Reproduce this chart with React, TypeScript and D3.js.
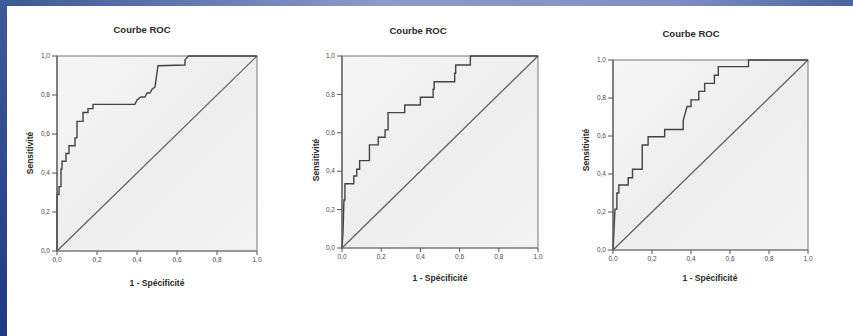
import React from "react";
import * as d3 from "d3";

const TITLE = "Courbe ROC";
const X_TITLE = "1 - Spécificité";
const Y_TITLE = "Sensitivité";
const TICKS = [0, 0.2, 0.4, 0.6, 0.8, 1.0];
const tickLabel = (v: number) => v.toFixed(1).replace(".", ",");

// ROC curve vertices [1 - specificity, sensitivity]
const roc1: [number, number][] = [
  [0, 0], [0, 0.29], [0.01, 0.29], [0.01, 0.33], [0.02, 0.33], [0.02, 0.42], [0.025, 0.42],
  [0.025, 0.46], [0.045, 0.46], [0.045, 0.5], [0.06, 0.5], [0.06, 0.54], [0.09, 0.54],
  [0.09, 0.58], [0.1, 0.58], [0.1, 0.665], [0.13, 0.665], [0.13, 0.71], [0.155, 0.71],
  [0.155, 0.73], [0.18, 0.73], [0.18, 0.752], [0.39, 0.752], [0.4, 0.775], [0.42, 0.79],
  [0.44, 0.79], [0.45, 0.81], [0.465, 0.81], [0.475, 0.83], [0.49, 0.84], [0.505, 0.95],
  [0.64, 0.954], [0.64, 0.98], [0.657, 1], [1, 1],
];
const roc2: [number, number][] = [
  [0, 0], [0.005, 0.08], [0.01, 0.25], [0.015, 0.25], [0.015, 0.335], [0.06, 0.335],
  [0.06, 0.375], [0.075, 0.375], [0.075, 0.41], [0.09, 0.41], [0.09, 0.455], [0.14, 0.455],
  [0.14, 0.537], [0.185, 0.537], [0.185, 0.577], [0.22, 0.577], [0.22, 0.615], [0.235, 0.615],
  [0.235, 0.705], [0.32, 0.705], [0.32, 0.745], [0.4, 0.745], [0.4, 0.785], [0.465, 0.785],
  [0.465, 0.827], [0.47, 0.827], [0.47, 0.866], [0.575, 0.866], [0.575, 0.91], [0.58, 0.91],
  [0.58, 0.953], [0.655, 0.953], [0.655, 1], [1, 1],
];
const roc3: [number, number][] = [
  [0, 0], [0.005, 0.1], [0.01, 0.215], [0.02, 0.215], [0.02, 0.3], [0.03, 0.3], [0.03, 0.342],
  [0.078, 0.342], [0.078, 0.38], [0.1, 0.38], [0.1, 0.425], [0.15, 0.425], [0.15, 0.553],
  [0.18, 0.553], [0.18, 0.596], [0.265, 0.596], [0.265, 0.634], [0.36, 0.634], [0.36, 0.68],
  [0.37, 0.72], [0.38, 0.755], [0.4, 0.755], [0.4, 0.79], [0.44, 0.79], [0.44, 0.835],
  [0.47, 0.835], [0.47, 0.877], [0.52, 0.877], [0.52, 0.92], [0.54, 0.92], [0.54, 0.965],
  [0.695, 0.965], [0.695, 1], [1, 1],
];

const panels = [
  { data: roc1, x0: 57, x1: 257, y0: 56, y1: 251, title: [142, 30], xt: [157, 283], yt: [30, 153] },
  { data: roc2, x0: 342, x1: 538, y0: 56, y1: 248, title: [418, 31], xt: [440, 278], yt: [316, 160] },
  { data: roc3, x0: 613, x1: 808, y0: 60, y1: 250, title: [691, 34], xt: [710, 278], yt: [586, 150] },
];

const FONT = "'Liberation Sans', Arial, sans-serif";

function Panel({ p, i }: { p: any; i: number }) {
  const x = d3.scaleLinear().domain([0, 1]).range([p.x0, p.x1]);
  const y = d3.scaleLinear().domain([0, 1]).range([p.y1, p.y0]);
  const line = d3.line<[number, number]>().x((d) => x(d[0])).y((d) => y(d[1]));
  return (
    <g>
      <defs>
        <linearGradient id={`pf${i}`} x1="0" y1="0" x2="1" y2="1">
          <stop offset="0" stopColor="#f6f6f6" />
          <stop offset="0.5" stopColor="#eeeeee" />
          <stop offset="1" stopColor="#f3f3f3" />
        </linearGradient>
      </defs>
      <rect x={p.x0} y={p.y0} width={p.x1 - p.x0} height={p.y1 - p.y0} fill={`url(#pf${i})`} stroke="#8c8c8c" strokeWidth={1.2} />
      <line x1={x(0)} y1={y(0)} x2={x(1)} y2={y(1)} stroke="#5c5c5c" strokeWidth={1.2} />
      <path d={line(p.data) || ""} fill="none" stroke="#444" strokeWidth={1.4} />
      <line x1={p.x0} y1={p.y0} x2={p.x0} y2={p.y1} stroke="#5a5a5a" strokeWidth={1.2} />
      <line x1={p.x0} y1={p.y1} x2={p.x1} y2={p.y1} stroke="#7a7a7a" strokeWidth={1.2} />
      {TICKS.map((t) => (
        <g key={"y" + t}>
          <line x1={p.x0 - 5} x2={p.x0} y1={y(t)} y2={y(t)} stroke="#555" strokeWidth={1} />
          <text x={p.x0 - 7} y={y(t)} dy="0.35em" textAnchor="end" fontSize={6.5} fill="#4a4a4a" fontFamily={FONT}>
            {tickLabel(t)}
          </text>
        </g>
      ))}
      {TICKS.map((t) => (
        <g key={"x" + t}>
          <line x1={x(t)} x2={x(t)} y1={p.y1} y2={p.y1 + 4} stroke="#555" strokeWidth={1} />
          <text x={x(t)} y={p.y1 + 11} textAnchor="middle" fontSize={6.5} fill="#4a4a4a" fontFamily={FONT}>
            {tickLabel(t)}
          </text>
        </g>
      ))}
      <text x={p.title[0]} y={p.title[1]} dy="0.35em" textAnchor="middle" fontSize={9.5} fontWeight="bold" fill="#2a2a2a" fontFamily={FONT}>
        {TITLE}
      </text>
      <text x={p.xt[0]} y={p.xt[1]} dy="0.35em" textAnchor="middle" fontSize={8.5} fontWeight="bold" fill="#2a2a2a" fontFamily={FONT}>
        {X_TITLE}
      </text>
      <text
        transform={`translate(${p.yt[0]},${p.yt[1]}) rotate(-90)`}
        dy="0.35em"
        textAnchor="middle"
        fontSize={8.5}
        fontWeight="bold"
        fill="#2a2a2a"
        fontFamily={FONT}
      >
        {Y_TITLE}
      </text>
    </g>
  );
}

export default function App() {
  const W = 853;
  const H = 336;
  return (
    <svg width={W} height={H} style={{ position: "fixed", left: 0, top: 0, display: "block" }}>
      <defs>
        <linearGradient id="topband" x1="0" y1="0" x2="1" y2="0">
          <stop offset="0" stopColor="#3c5797" />
          <stop offset="0.45" stopColor="#8c9ccb" />
          <stop offset="0.8" stopColor="#7d8fc2" />
          <stop offset="1" stopColor="#4a64a0" />
        </linearGradient>
        <linearGradient id="leftband" x1="0" y1="0" x2="0" y2="1">
          <stop offset="0" stopColor="#3e5a99" />
          <stop offset="1" stopColor="#1f3a85" />
        </linearGradient>
      </defs>
      <rect x={0} y={0} width={W} height={H} fill="#ffffff" />
      <rect x={0} y={0} width={W} height={6} fill="url(#topband)" />
      <rect x={0} y={0} width={7} height={H} fill="url(#leftband)" />
      {panels.map((p, i) => (
        <Panel key={i} p={p} i={i} />
      ))}
    </svg>
  );
}
